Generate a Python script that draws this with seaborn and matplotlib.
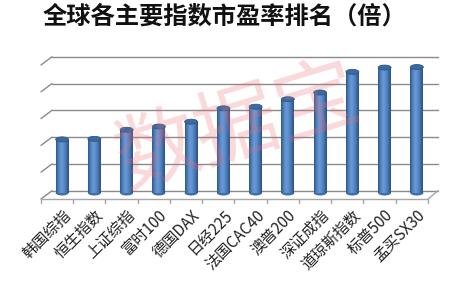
import numpy as np
import pandas as pd
import matplotlib
matplotlib.use("Agg")
import matplotlib.pyplot as plt
import seaborn as sns
from matplotlib.patches import Ellipse
from matplotlib.colors import LinearSegmentedColormap

categories = ["韩国综指", "恒生指数", "上证综指", "富时100", "德国DAX", "日经225",
              "法国CAC40", "澳普200", "深证成指", "道琼斯指数", "标普500", "孟买SX30"]
pe_values = [10.0, 10.1, 11.8, 12.4, 13.3, 15.8, 16.1, 17.5, 18.75, 22.6, 23.4, 23.5]
grid_values = [0, 5, 10, 15, 20, 25]
title = "全球各主要指数市盈率排名（倍）"

sns.set_theme(style="white")
plt.rcParams['font.family'] = ['Noto Sans CJK SC', 'DejaVu Sans']

W, H = 464, 283
fig = plt.figure(figsize=(W / 100, H / 100), dpi=100)

# back wall grid axes
ax_bg = fig.add_axes([52 / W, (H - 190.7) / H, 386 / W, 134 / H])
ax_bg.set_ylim(0, 25)
ax_bg.set_xlim(0, 1)
ax_bg.axis('off')
grid_col = '#8a8a8a'
px_per_unit = 134 / 25.0
dy = 8.3 / px_per_unit
dx = 11 / 386
tr = ax_bg.get_yaxis_transform()
for v in grid_values:
    ax_bg.plot([0, 1], [v, v], color=grid_col, lw=1.0, transform=tr, clip_on=False)
    ax_bg.plot([-dx, 0], [v - dy, v], color=grid_col, lw=1.0, transform=tr, clip_on=False)
# floor front edge & right side
floor_col = '#a6a6a6'
right_front = 1 - 10 / 386
ax_bg.plot([-dx, right_front], [-dy, -dy], color=floor_col, lw=1.0, transform=tr, clip_on=False)
ax_bg.plot([right_front, 1], [-dy, 0], color=floor_col, lw=1.0, transform=tr, clip_on=False)
tick_len = 4 / px_per_unit
for i in range(len(categories) + 1):
    xf = -dx + i * (right_front + dx) / len(categories)
    ax_bg.plot([xf, xf], [-dy, -dy - tick_len], color=floor_col, lw=1.0, transform=tr, clip_on=False)

# watermark
fig.text(238 / W, 1 - 128 / H, "数据宝", fontsize=60, color='#ee6b75', alpha=0.26,
         rotation=17, ha='center', va='center', zorder=0)

# bars axes
ax = fig.add_axes([46 / W, (H - 193) / H, 387 / W, 134 / H])
ax.patch.set_visible(False)
df = pd.DataFrame({"指数": categories, "市盈率": pe_values})
sns.barplot(data=df, x="指数", y="市盈率", color='#4f81bd', saturation=1,
            width=0.4, ax=ax, linewidth=0)
ax.set_ylim(0, 25)
ax.set_xlim(-0.5, len(categories) - 0.5)

cmap = LinearSegmentedColormap.from_list(
    "cyl", ['#2f5687', '#4f81bd', '#6b9bd6', '#5a8dcc', '#4472ab', '#2c5081'])
grad = np.linspace(0, 1, 64).reshape(1, -1)
ell_h = 5 / px_per_unit
for p in ax.patches:
    x0, w, h = p.get_x(), p.get_width(), p.get_height()
    im = ax.imshow(grad, cmap=cmap, extent=[x0, x0 + w, 0, h], aspect='auto',
                   zorder=2, interpolation='bilinear')
    im.set_clip_path(p)
    # bottom rounded end
    bot = Ellipse((x0 + w / 2, 0), w, ell_h, facecolor='#3f6ea8', edgecolor='none',
                  zorder=1.9, clip_on=False)
    ax.add_patch(bot)
    top = Ellipse((x0 + w / 2, h), w, ell_h, facecolor='#3b69a1',
                  edgecolor='#2f5687', lw=0.6, zorder=3, clip_on=False)
    ax.add_patch(top)
ax.set_ylim(0, 25)
ax.set_xlim(-0.5, len(categories) - 0.5)

for s in ax.spines.values():
    s.set_visible(False)
ax.set_yticks([])
ax.set_xlabel("")
ax.set_ylabel("")
ax.set_xticks(range(len(categories)))
ax.set_xticklabels(categories, rotation=45, ha='right', rotation_mode='anchor',
                   fontsize=11, color='#222222')
ax.tick_params(axis='x', length=0, pad=10)

fig.text(224 / W, 1 - 17 / H, title, ha='center', va='center', fontsize=17.5,
         fontweight='bold', color='#111111')

fig.savefig("out.png", dpi=100)
